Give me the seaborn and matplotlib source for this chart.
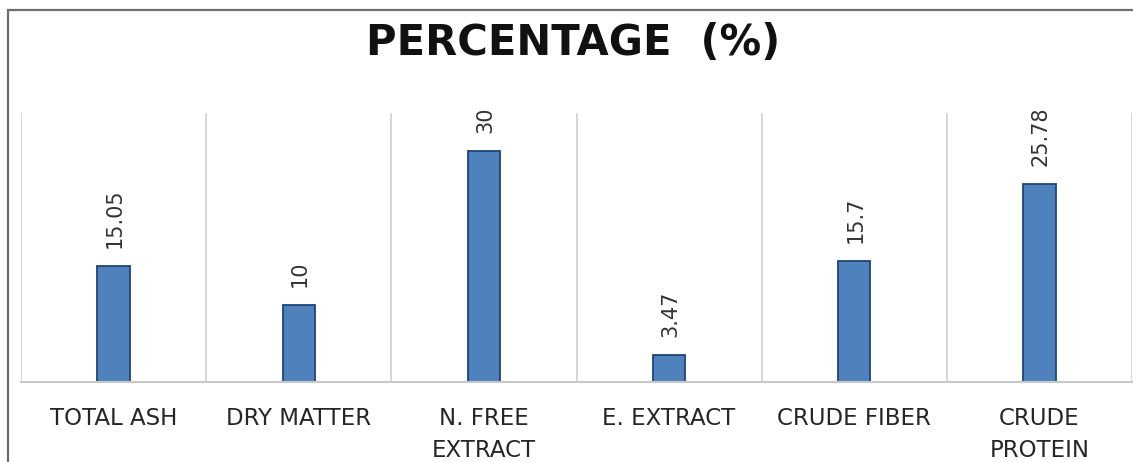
import matplotlib
matplotlib.use("Agg")
import matplotlib.pyplot as plt
from matplotlib.patches import Rectangle
import pandas as pd
import seaborn as sns

# Proximate composition values (%)
categories = ["TOTAL ASH", "DRY MATTER", "N. FREE\nEXTRACT", "E. EXTRACT",
              "CRUDE FIBER", "CRUDE\nPROTEIN"]
values = [15.05, 10, 30, 3.47, 15.7, 25.78]
title_text = "PERCENTAGE  (%)"

df = pd.DataFrame({"component": categories, "percent": values})

sns.set_theme(style="white")
plt.rcParams["font.family"] = ["DejaVu Sans"]

W, H = 1133, 462
fig = plt.figure(figsize=(W / 100, H / 100), dpi=100)

# axes placed in pixel terms: left 21, right 1132, top 113, baseline 382
left, right, top, base = 21, 1132, 113, 382
ax = fig.add_axes([left / W, (H - base) / H, (right - left) / W, (base - top) / H])

sns.barplot(data=df, x="component", y="percent", ax=ax, width=0.175,
            color="#4F81BD", edgecolor="#1F4477", linewidth=1.3, saturation=1)

ax.set_ylim(0, 35)
ax.set_xlim(-0.5, len(categories) - 0.5)
ax.set_xlabel("")
ax.set_ylabel("")
ax.set_yticks([])

# category separators
ax.set_xticks([i - 0.5 for i in range(len(categories) + 1)], minor=True)
ax.grid(True, which="minor", axis="x", color="#D0D0D0", linewidth=1.2)
ax.grid(False, which="major")
ax.tick_params(axis="x", which="both", length=0)
ax.tick_params(axis="x", which="major", pad=18, labelsize=16.5, labelcolor="#262626")
for lbl in ax.get_xticklabels():
    lbl.set_linespacing(1.5)
    lbl.set_multialignment("center")

for s in ["top", "left", "right"]:
    ax.spines[s].set_visible(False)
ax.spines["bottom"].set_color("#C8C8C8")
ax.spines["bottom"].set_linewidth(1.5)

# value labels above bars
for i, v in enumerate(values):
    ax.annotate(f"{v:g}", xy=(i, v), xytext=(1, 13), textcoords="offset points",
                rotation=90, ha="center", va="bottom", fontsize=15, color="#333333")

fig.text(573 / W, 1 - 43 / H, title_text, ha="center", va="center",
         fontsize=30, fontweight="bold", color="#111111")

# chart frame
fig.patches.append(Rectangle((8 / W, -0.1), 1.2, 1 - 10 / H + 0.1, transform=fig.transFigure,
                             fill=False, edgecolor="#6E6E6E", linewidth=1.6, zorder=10))

fig.savefig("out.png", dpi=100, facecolor="white")
